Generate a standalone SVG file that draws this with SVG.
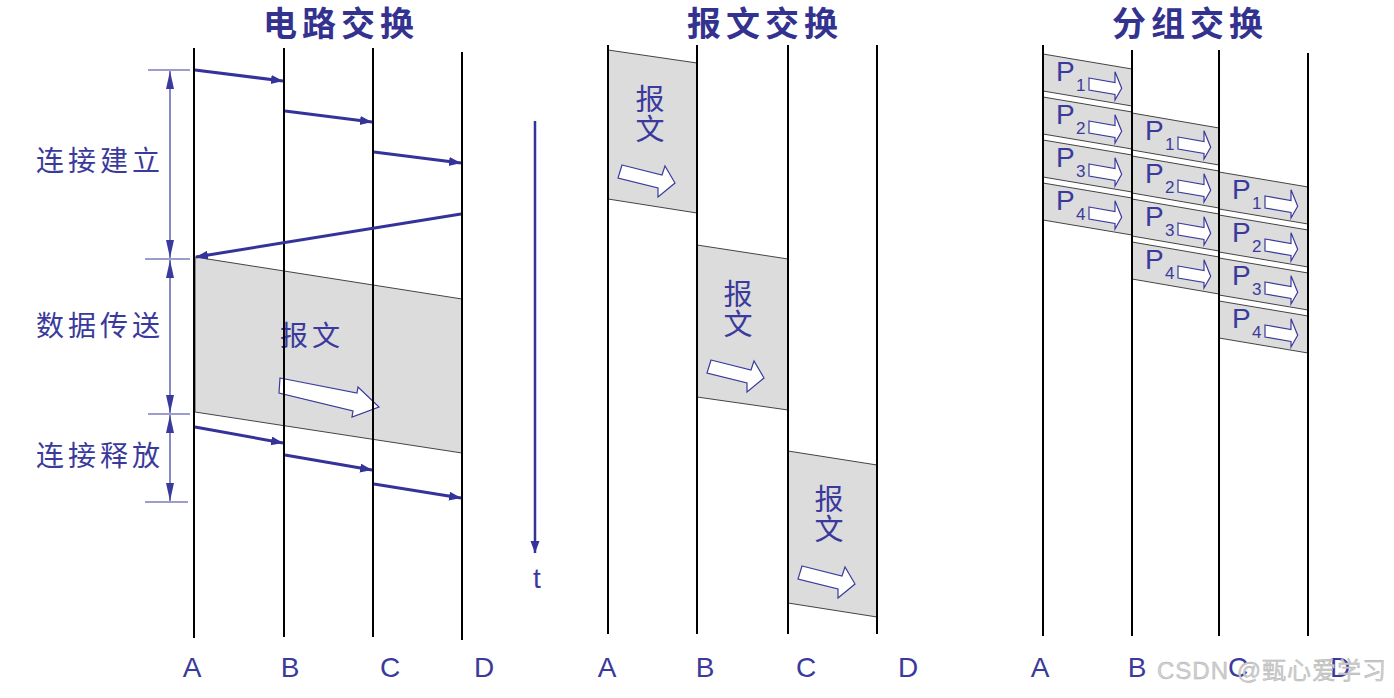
<svg xmlns="http://www.w3.org/2000/svg" xmlns:xlink="http://www.w3.org/1999/xlink" width="1394" height="698" viewBox="0 0 1394 698">
<style>
.title{font-family:"Noto Sans CJK SC","Noto Sans",sans-serif;font-weight:bold;font-size:34px;fill:#33338f;letter-spacing:5px;text-anchor:middle}
.lbl{font-family:"Noto Sans CJK SC","Noto Sans",sans-serif;font-size:28px;fill:#3a3a9c;letter-spacing:4px}
.cjk{font-family:"Noto Sans CJK SC","Noto Sans",sans-serif;font-size:29px;fill:#3a3a9c;text-anchor:middle}
.ax{font-family:"Liberation Sans",Arial,sans-serif;font-size:28px;fill:#3a3a9c;text-anchor:middle}
.p{font-family:"Liberation Sans",Arial,sans-serif;font-size:28px;fill:#3a3a9c}
.sub{font-family:"Liberation Sans",Arial,sans-serif;font-size:17px;fill:#3a3a9c}
.vl{stroke:#000;stroke-width:2;fill:none}
.blk{fill:#dcdcdc;stroke:#444;stroke-width:1}
.wa{fill:#fff;stroke:#3a3a9c;stroke-width:1.2;stroke-linejoin:miter}
.sig{stroke:#33339a;stroke-width:3;fill:none;marker-end:url(#ah)}
.brk{stroke:#3a3a9c;stroke-width:1.2;fill:none}
.brka{stroke:#3a3a9c;stroke-width:1.2;fill:none;marker-start:url(#bh);marker-end:url(#bh)}
</style>
<defs>
<marker id="ah" markerUnits="userSpaceOnUse" markerWidth="13" markerHeight="10" refX="12" refY="4.5" orient="auto"><path d="M0,0 L12,4.5 L0,9 Z" fill="#33339a"/></marker>
<marker id="bh" markerUnits="userSpaceOnUse" markerWidth="19" markerHeight="9" refX="18" refY="4" orient="auto-start-reverse"><path d="M0,0 L18,4 L0,8 Z" fill="#3a3a9c"/></marker>
<path id="marrow" d="M14,115 L54,125 L57,116 L67,133 L50,147 L50,138 L10,128 Z"/>
<path id="parrow" d="M46,24 L72,28.5 L72,17.7 L78.7,34.3 L72,46 L72,40.5 L46,36 Z"/>
<polygon id="pk89" points="0,0 89,15 89,52 0,37"/>
<polygon id="pk87" points="0,0 87,15 87,52 0,37"/>
</defs>
<rect width="1394" height="698" fill="#fff"/>

<!-- Titles -->
<g id="titles">
<text class="title" x="341" y="36">电路交换</text>
<text class="title" x="765" y="36">报文交换</text>
<text class="title" x="1190" y="36">分组交换</text>
</g>

<!-- Circuit switching -->
<g id="circuit-data">
<polygon class="blk" points="195,257 462,299 462,453 195,412"/>
<text class="lbl" x="280" y="346">报文</text>
<polygon class="wa" points="280,378 357,393 358,387 379,407 352,417 353,411 279,393"/>
</g>
<g id="circuit-lines">
<line class="vl" x1="194" y1="48" x2="194" y2="638"/>
<line class="vl" x1="284" y1="48" x2="284" y2="637"/>
<line class="vl" x1="373" y1="48" x2="373" y2="637"/>
<line class="vl" x1="462" y1="52" x2="462" y2="640"/>
</g>
<g id="connectors">
<line class="sig" x1="195" y1="70" x2="283" y2="81"/>
<line class="sig" x1="285" y1="111" x2="372" y2="122"/>
<line class="sig" x1="374" y1="152" x2="461" y2="163"/>
<line class="sig" x1="461" y1="214" x2="196" y2="257"/>
<line class="sig" x1="195" y1="427" x2="283" y2="443"/>
<line class="sig" x1="285" y1="455" x2="372" y2="470"/>
<line class="sig" x1="374" y1="484" x2="461" y2="498"/>
<line class="sig" x1="535" y1="121" x2="535" y2="553" style="stroke-width:2.5"/>
</g>
<g id="phases">
<line class="brk" x1="148" y1="70" x2="190" y2="70"/>
<line class="brk" x1="145" y1="259" x2="190" y2="259"/>
<line class="brk" x1="148" y1="414" x2="190" y2="414"/>
<line class="brk" x1="145" y1="502" x2="188" y2="502"/>
<line class="brka" x1="170" y1="71" x2="170" y2="258"/>
<line class="brka" x1="170" y1="260" x2="170" y2="413"/>
<line class="brka" x1="170" y1="415" x2="170" y2="501"/>
<text class="lbl" x="36" y="171">连接建立</text>
<text class="lbl" x="36" y="336">数据传送</text>
<text class="lbl" x="36" y="466">连接释放</text>
</g>
<g id="time">
<text class="ax" x="537" y="588">t</text>
</g>

<!-- Message switching -->
<g id="msg-1">
<polygon class="blk" points="608,50 697,63 697,213 608,199"/>
<text class="cjk" x="650" y="110">报</text>
<text class="cjk" x="650" y="140">文</text>
<use href="#marrow" xlink:href="#marrow" class="wa" transform="translate(608,50)"/>
</g>
<g id="msg-2">
<polygon class="blk" points="697,245 788,259 788,410 697,397"/>
<text class="cjk" x="738" y="305">报</text>
<text class="cjk" x="738" y="335">文</text>
<use href="#marrow" xlink:href="#marrow" class="wa" transform="translate(697,245)"/>
</g>
<g id="msg-3">
<polygon class="blk" points="788,451 877,465 877,617 788,603"/>
<text class="cjk" x="829" y="510">报</text>
<text class="cjk" x="829" y="540">文</text>
<use href="#marrow" xlink:href="#marrow" class="wa" transform="translate(788,451)"/>
</g>
<g id="msg-lines">
<line class="vl" x1="608" y1="45" x2="608" y2="634"/>
<line class="vl" x1="697" y1="45" x2="697" y2="634"/>
<line class="vl" x1="788" y1="45" x2="788" y2="634"/>
<line class="vl" x1="877" y1="45" x2="877" y2="634"/>
</g>

<!-- Packet switching -->
<g id="pk-A1" transform="translate(1043,54)"><use href="#pk89" xlink:href="#pk89" class="blk"/><text class="p" x="13" y="27">P</text><text class="sub" x="33" y="37">1</text><use href="#parrow" xlink:href="#parrow" class="wa"/></g>
<g id="pk-A2" transform="translate(1043,97)"><use href="#pk89" xlink:href="#pk89" class="blk"/><text class="p" x="13" y="27">P</text><text class="sub" x="33" y="37">2</text><use href="#parrow" xlink:href="#parrow" class="wa"/></g>
<g id="pk-A3" transform="translate(1043,140)"><use href="#pk89" xlink:href="#pk89" class="blk"/><text class="p" x="13" y="27">P</text><text class="sub" x="33" y="37">3</text><use href="#parrow" xlink:href="#parrow" class="wa"/></g>
<g id="pk-A4" transform="translate(1043,183)"><use href="#pk89" xlink:href="#pk89" class="blk"/><text class="p" x="13" y="27">P</text><text class="sub" x="33" y="37">4</text><use href="#parrow" xlink:href="#parrow" class="wa"/></g>
<g id="pk-B1" transform="translate(1132,113)"><use href="#pk87" xlink:href="#pk87" class="blk"/><text class="p" x="13" y="27">P</text><text class="sub" x="33" y="37">1</text><use href="#parrow" xlink:href="#parrow" class="wa"/></g>
<g id="pk-B2" transform="translate(1132,156)"><use href="#pk87" xlink:href="#pk87" class="blk"/><text class="p" x="13" y="27">P</text><text class="sub" x="33" y="37">2</text><use href="#parrow" xlink:href="#parrow" class="wa"/></g>
<g id="pk-B3" transform="translate(1132,199)"><use href="#pk87" xlink:href="#pk87" class="blk"/><text class="p" x="13" y="27">P</text><text class="sub" x="33" y="37">3</text><use href="#parrow" xlink:href="#parrow" class="wa"/></g>
<g id="pk-B4" transform="translate(1132,242)"><use href="#pk87" xlink:href="#pk87" class="blk"/><text class="p" x="13" y="27">P</text><text class="sub" x="33" y="37">4</text><use href="#parrow" xlink:href="#parrow" class="wa"/></g>
<g id="pk-C1" transform="translate(1219,172)"><use href="#pk89" xlink:href="#pk89" class="blk"/><text class="p" x="13" y="27">P</text><text class="sub" x="33" y="37">1</text><use href="#parrow" xlink:href="#parrow" class="wa"/></g>
<g id="pk-C2" transform="translate(1219,215)"><use href="#pk89" xlink:href="#pk89" class="blk"/><text class="p" x="13" y="27">P</text><text class="sub" x="33" y="37">2</text><use href="#parrow" xlink:href="#parrow" class="wa"/></g>
<g id="pk-C3" transform="translate(1219,258)"><use href="#pk89" xlink:href="#pk89" class="blk"/><text class="p" x="13" y="27">P</text><text class="sub" x="33" y="37">3</text><use href="#parrow" xlink:href="#parrow" class="wa"/></g>
<g id="pk-C4" transform="translate(1219,301)"><use href="#pk89" xlink:href="#pk89" class="blk"/><text class="p" x="13" y="27">P</text><text class="sub" x="33" y="37">4</text><use href="#parrow" xlink:href="#parrow" class="wa"/></g>
<g id="pk-lines">
<line class="vl" x1="1043" y1="45" x2="1043" y2="636"/>
<line class="vl" x1="1132" y1="50" x2="1132" y2="636"/>
<line class="vl" x1="1219" y1="50" x2="1219" y2="636"/>
<line class="vl" x1="1308" y1="53" x2="1308" y2="636"/>
</g>

<!-- Axis labels -->
<g id="axis-labels">
<text class="ax" x="192" y="677">A</text>
<text class="ax" x="290" y="677">B</text>
<text class="ax" x="390" y="677">C</text>
<text class="ax" x="484" y="677">D</text>
<text class="ax" x="607" y="677">A</text>
<text class="ax" x="705" y="677">B</text>
<text class="ax" x="806" y="677">C</text>
<text class="ax" x="908" y="677">D</text>
<text class="ax" x="1040" y="677">A</text>
<text class="ax" x="1137" y="677">B</text>
<text class="ax" x="1238" y="677">C</text>
<text class="ax" x="1340" y="677">D</text>
</g>
<g id="watermark">
<text x="1157" y="679" style="font-family:'Liberation Sans','Noto Sans CJK SC',sans-serif;font-size:24px;fill:#cfcfcf;stroke:#b0b0b0;stroke-width:0.4;letter-spacing:1px">CSDN @甄心爱学习</text>
</g>
</svg>
